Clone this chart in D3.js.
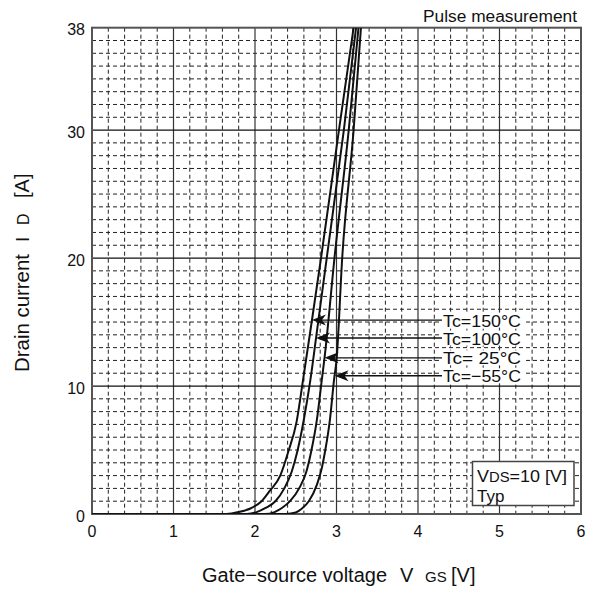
<!DOCTYPE html>
<html>
<head>
<meta charset="utf-8">
<script src="https://cdn.jsdelivr.net/npm/d3@7"></script>
<style>
  html, body { margin: 0; padding: 0; background: #fff; }
  svg { display: block; }
  text { font-family: "Liberation Sans", Arial, sans-serif; fill: #111; }
</style>
</head>
<body>
<svg id="chart" width="598" height="593"></svg>
<script>
// Axis ticks
const vgsTicks = [0, 1, 2, 3, 4, 5, 6];
const idTicks = [0, 10, 20, 30, 38];

// Case temperatures and their transfer curves: [VGS (V), ID (A)]
const seriesNames = ["Tc=150°C", "Tc=100°C", "Tc= 25°C", "Tc=\u221255°C"];

const tc150 = [[0,0],[1.65,0],[1.80,0.15],[1.95,0.45],[2.08,1.0],[2.18,1.8],[2.31,3.0],[2.41,4.9],[2.51,7.2],[2.59,10.5],[2.70,15.2],[2.81,20],[3.03,30],[3.21,38]];
const tc100 = [[0,0],[1.90,0],[2.02,0.15],[2.13,0.47],[2.25,1.0],[2.36,2.0],[2.45,3.3],[2.52,4.9],[2.60,7.4],[2.68,10.5],[2.75,13.8],[2.88,20],[3.09,30],[3.24,38]];
const tc25  = [[0,0],[2.12,0],[2.24,0.15],[2.33,0.47],[2.43,1.0],[2.55,2.1],[2.63,3.3],[2.69,4.9],[2.76,7.4],[2.82,10.5],[2.855,12.3],[2.975,20],[3.15,30],[3.27,38]];
const tcM55 = [[0,0],[2.38,0],[2.50,0.12],[2.58,0.45],[2.66,1.0],[2.76,2.3],[2.82,3.6],[2.86,4.9],[2.92,7.4],[2.97,10.5],[3.00,12.0],[3.07,20],[3.21,30],[3.30,38]];

// Drain current at which each label's arrow meets its curve
const arrowCurrents = [15.15, 13.75, 12.2, 10.8];

const curves = [tc150, tc100, tc25, tcM55];

const svg = d3.select("#chart");
const plotLeft = 92, plotRight = 581, plotTop = 27.7, plotBottom = 514;

const x = d3.scaleLinear().domain([0, 6]).range([plotLeft, plotRight]);
const y = d3.scaleLinear().domain([0, 38]).range([plotBottom, plotTop]);

// Minor grid (dashed): 0.2 V and 1 A steps
const grid = svg.append("g");
const minorV = d3.range(1, 30).filter(i => i % 5 !== 0).map(i => i / 5);
const minorI = d3.range(1, 38).filter(i => i % 10 !== 0);

grid.selectAll("line.mv").data(minorV).join("line")
  .attr("x1", d => x(d)).attr("x2", d => x(d))
  .attr("y1", plotTop).attr("y2", plotBottom)
  .attr("stroke", "#222").attr("stroke-width", 1)
  .attr("stroke-dasharray", "4,3");

grid.selectAll("line.mi").data(minorI).join("line")
  .attr("x1", plotLeft).attr("x2", plotRight)
  .attr("y1", d => y(d)).attr("y2", d => y(d))
  .attr("stroke", "#222").attr("stroke-width", 1)
  .attr("stroke-dasharray", "4,3");

// Major grid (solid)
grid.selectAll("line.Mv").data(vgsTicks.slice(1, -1)).join("line")
  .attr("x1", d => x(d)).attr("x2", d => x(d))
  .attr("y1", plotTop).attr("y2", plotBottom)
  .attr("stroke", "#333").attr("stroke-width", 1.2);

grid.selectAll("line.Mi").data([10, 20, 30]).join("line")
  .attr("x1", plotLeft).attr("x2", plotRight)
  .attr("y1", d => y(d)).attr("y2", d => y(d))
  .attr("stroke", "#111").attr("stroke-width", 1.2);

// Frame
svg.append("rect")
  .attr("x", plotLeft).attr("y", plotTop)
  .attr("width", plotRight - plotLeft).attr("height", plotBottom - plotTop)
  .attr("fill", "none").attr("stroke", "#555").attr("stroke-width", 2);

// Tick labels
svg.append("g").selectAll("text").data(vgsTicks).join("text")
  .attr("x", d => x(d)).attr("y", plotBottom + 23)
  .attr("text-anchor", "middle").attr("font-size", 16)
  .text(d => d);

svg.append("g").selectAll("text").data(idTicks).join("text")
  .attr("x", plotLeft - 7).attr("y", d => y(d) + 7.5)
  .attr("text-anchor", "end").attr("font-size", 16)
  .text(d => d);

// Curves
svg.append("defs").append("clipPath").attr("id", "plotClip")
  .append("rect").attr("x", plotLeft).attr("y", plotTop)
  .attr("width", plotRight - plotLeft).attr("height", plotBottom - plotTop);

const line = d3.line()
  .x(d => x(d[0])).y(d => y(d[1]))
  .curve(d3.curveMonotoneX);

svg.append("g").attr("clip-path", "url(#plotClip)")
  .selectAll("path").data(curves).join("path")
  .attr("d", line)
  .attr("fill", "none").attr("stroke", "#111")
  .attr("stroke-width", 2).attr("stroke-linejoin", "round");

// VGS on a curve at a given drain current (linear between points)
function vgsAt(curve, current) {
  for (let i = 1; i < curve.length; i++) {
    const [v0, i0] = curve[i - 1], [v1, i1] = curve[i];
    if (current >= i0 && current <= i1 && i1 > i0) {
      return v0 + (v1 - v0) * (current - i0) / (i1 - i0);
    }
  }
  return curve[curve.length - 1][0];
}

// Temperature labels with arrows pointing at their curves
const labelX = 443;
const labels = svg.append("g");
seriesNames.forEach((name, k) => {
  const cy = y(arrowCurrents[k]);
  const tx = x(vgsAt(curves[k], arrowCurrents[k]));
  labels.append("rect")
    .attr("x", labelX - 1).attr("y", cy - 7.5)
    .attr("width", 81).attr("height", 15)
    .attr("fill", "#fff");
  labels.append("line")
    .attr("x1", tx + 8).attr("x2", labelX - 1)
    .attr("y1", cy).attr("y2", cy)
    .attr("stroke", "#111").attr("stroke-width", 1.4);
  labels.append("path")
    .attr("d", `M${tx},${cy} L${tx + 14},${cy - 5.5} L${tx + 10},${cy} L${tx + 14},${cy + 5.5} Z`)
    .attr("fill", "#111");
  labels.append("text")
    .attr("x", labelX).attr("y", cy + 6.5)
    .attr("font-size", 17)
    .attr("textLength", 78).attr("lengthAdjust", "spacingAndGlyphs")
    .text(name);
});

// Condition box
const box = svg.append("g");
box.append("rect")
  .attr("x", 472.5).attr("y", 461.5).attr("width", 101.5).attr("height", 44)
  .attr("fill", "#fff").attr("stroke", "#444").attr("stroke-width", 1.5);
const vds = box.append("text").attr("x", 477).attr("y", 481.5).attr("font-size", 17)
  .attr("textLength", 90).attr("lengthAdjust", "spacingAndGlyphs");
vds.append("tspan").text("V");
vds.append("tspan").attr("font-size", 14).text("DS");
vds.append("tspan").text("=10 [V]");
box.append("text").attr("x", 477).attr("y", 502).attr("font-size", 17).text("Typ");

// Measurement note
svg.append("text")
  .attr("x", 577).attr("y", 21.5)
  .attr("text-anchor", "end").attr("font-size", 16)
  .attr("textLength", 154).attr("lengthAdjust", "spacingAndGlyphs")
  .text("Pulse measurement");

// X axis title
const xt = svg.append("g");
xt.append("text").attr("x", 202).attr("y", 582).attr("font-size", 20)
  .attr("textLength", 185).attr("lengthAdjust", "spacingAndGlyphs")
  .text("Gate\u2212source voltage");
xt.append("text").attr("x", 400).attr("y", 582).attr("font-size", 20).text("V");
xt.append("text").attr("x", 425).attr("y", 582).attr("font-size", 15).text("GS");
xt.append("text").attr("x", 451).attr("y", 582).attr("font-size", 20).text("[V]");

// Y axis title (rotated)
const yt = svg.append("g").attr("transform", "translate(29,0) rotate(-90)");
yt.append("text").attr("x", -372).attr("y", 0).attr("font-size", 20)
  .attr("textLength", 118).attr("lengthAdjust", "spacingAndGlyphs")
  .text("Drain current");
yt.append("text").attr("x", -242).attr("y", 0).attr("font-size", 19)
  .attr("font-family", "'Liberation Mono', monospace").text("I");
yt.append("text").attr("x", -225).attr("y", 0).attr("font-size", 16).text("D");
yt.append("text").attr("x", -198).attr("y", 0).attr("font-size", 20).text("[A]");
</script>
</body>
</html>
